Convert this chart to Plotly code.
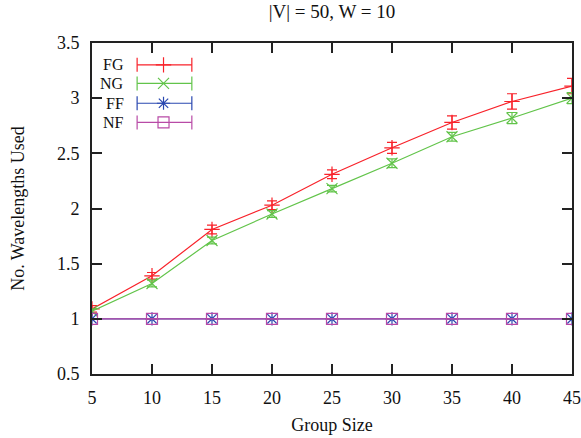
import plotly.graph_objects as go

group_size = [5, 10, 15, 20, 25, 30, 35, 40, 45]
fg = [1.09, 1.39, 1.81, 2.03, 2.31, 2.55, 2.78, 2.97, 3.11]
fg_err = [0.03, 0.03, 0.04, 0.04, 0.04, 0.05, 0.06, 0.07, 0.07]
ng = [1.07, 1.32, 1.71, 1.95, 2.18, 2.41, 2.65, 2.82, 3.00]
ng_err = [0.02, 0.03, 0.03, 0.03, 0.03, 0.04, 0.04, 0.05, 0.05]
ff = [1, 1, 1, 1, 1, 1, 1, 1, 1]
ff_err = [0, 0, 0, 0, 0, 0, 0, 0, 0]
nf = [1, 1, 1, 1, 1, 1, 1, 1, 1]
nf_err = [0, 0, 0, 0, 0, 0, 0, 0, 0]

names = ["FG", "NG", "FF", "NF"]
series = [fg, ng, ff, nf]
errors = [fg_err, ng_err, ff_err, nf_err]
colors = ["#f8222a", "#62c44a", "#2a48b0", "#b84aa6"]
symbols = ["cross-thin-open", "x-thin-open", "asterisk-open", "square-open"]
sizes = [11, 11, 11, 11]

FONT = "Liberation Serif"
FS = 18
W, H = 581, 438

fig = go.Figure()

for name, y, e, c, s, sz in zip(names, series, errors, colors, symbols, sizes):
    fig.add_trace(go.Scatter(
        x=group_size, y=y, mode="lines+markers", name=name, showlegend=False,
        line=dict(color=c, width=1.2),
        marker=dict(symbol=s, size=sz, color=c, line=dict(color=c, width=1.2)),
        error_y=dict(type="data", array=e, visible=True, color=c, thickness=1.2, width=5),
    ))

# gnuplot-style legend (text, then sample with error-bar caps)
leg_rows = [0.934, 0.878, 0.818, 0.760]
leg_x0, leg_x1, leg_xm, leg_tx = 0.094, 0.208, 0.149, 0.068
for name, c, s, sz, ry in zip(names, colors, symbols, sizes, leg_rows):
    fig.add_trace(go.Scatter(
        x=[leg_x0, leg_x1], y=[ry, ry], mode="lines+markers", xaxis="x2", yaxis="y2",
        showlegend=False, hoverinfo="skip",
        line=dict(color=c, width=1.2),
        marker=dict(symbol="line-ns-open", size=10, color=c, line=dict(color=c, width=1.2)),
    ))
    fig.add_trace(go.Scatter(
        x=[leg_xm], y=[ry], mode="markers", xaxis="x2", yaxis="y2",
        showlegend=False, hoverinfo="skip",
        marker=dict(symbol=s, size=sz, color=c, line=dict(color=c, width=1.2)),
    ))
    fig.add_annotation(x=leg_tx, y=ry, xref="paper", yref="paper", text=name,
                       showarrow=False, xanchor="right", yanchor="middle", borderpad=0,
                       font=dict(family=FONT, size=16, color="#111"))

axis_common = dict(
    showline=True, linecolor="#222", linewidth=2, mirror="ticks",
    ticks="inside", ticklen=10, tickwidth=1.5, tickcolor="#222",
    showgrid=False, zeroline=False, automargin=False, ticklabeloverflow="allow",
    tickfont=dict(family=FONT, size=FS, color="#111"),
)

fig.update_layout(
    width=W, height=H,
    margin=dict(l=92, r=9, t=43, b=64),
    paper_bgcolor="white", plot_bgcolor="white",
    title=dict(text="|V| = 50, W = 10", x=332 / W, xanchor="center",
               y=1 - 5 / H, yanchor="top", pad=dict(t=0, b=0),
               font=dict(family=FONT, size=19, color="#111")),
    xaxis=dict(range=[5, 45], tickvals=[5, 10, 15, 20, 25, 30, 35, 40, 45],
               ticklabelstandoff=6,
               title=dict(text="Group Size", font=dict(family=FONT, size=FS, color="#111"), standoff=12),
               **axis_common),
    yaxis=dict(range=[0.5, 3.5], tickvals=[0.5, 1, 1.5, 2, 2.5, 3, 3.5],
               ticktext=["0.5", "1", "1.5", "2", "2.5", "3", "3.5"],
               ticklabelstandoff=7,
               title=dict(text="No. Wavelengths Used", font=dict(family=FONT, size=FS, color="#111"), standoff=28),
               **axis_common),
    xaxis2=dict(overlaying="x", range=[0, 1], visible=False, anchor="y2"),
    yaxis2=dict(overlaying="y", range=[0, 1], visible=False, anchor="x2"),
    font=dict(family=FONT),
)

fig.write_html("out.html", config={"displayModeBar": False},
               post_script="document.body.style.margin='0';document.body.style.overflow='hidden';")
